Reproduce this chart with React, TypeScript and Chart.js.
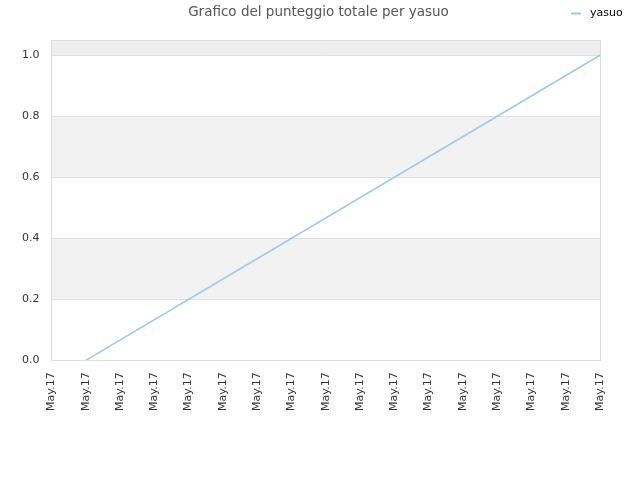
import React, { useEffect, useRef } from "react";
import { Chart, registerables } from "chart.js";

Chart.register(...registerables);

const TITLE = "Grafico del punteggio totale per yasuo";
const SERIES_NAME = "yasuo";
const xLabels = [
  "May.17", "May.17", "May.17", "May.17", "May.17", "May.17", "May.17", "May.17", "May.17",
  "May.17", "May.17", "May.17", "May.17", "May.17", "May.17", "May.17", "May.17",
];
const yasuoValues: (number | null)[] = [
  null, 0.0, null, null, null, null, null, null, null, null, null, null, null, null, null, null, 1.0,
];
const yTicks = [0, 0.2, 0.4, 0.6, 0.8, 1.0];
const yMax = 1.05;
const bands: [number, number, string][] = [
  [0.2, 0.4, "#f2f2f2"],
  [0.6, 0.8, "#f2f2f2"],
  [1.0, 1.05, "#eeeeee"],
];
const LINE_COLOR = "#99c8f6";
const FONT = "'DejaVu Sans', sans-serif";

const decorPlugin = {
  id: "decor",
  beforeDraw(chart: any) {
    const { ctx, chartArea, scales } = chart;
    const y = scales.y;
    ctx.save();
    for (const [a, b, c] of bands) {
      const top = y.getPixelForValue(b);
      const bot = y.getPixelForValue(a);
      ctx.fillStyle = c;
      ctx.fillRect(chartArea.left, top, chartArea.right - chartArea.left, bot - top);
    }
    ctx.restore();
  },
  afterDraw(chart: any) {
    const { ctx, chartArea } = chart;
    ctx.save();
    ctx.strokeStyle = "#dddddd";
    ctx.lineWidth = 1;
    ctx.strokeRect(
      Math.round(chartArea.left) + 0.5,
      Math.round(chartArea.top) + 0.5,
      Math.round(chartArea.right - chartArea.left),
      Math.round(chartArea.bottom - chartArea.top)
    );
    // title
    ctx.fillStyle = "#555555";
    ctx.font = `13.5px ${FONT}`;
    ctx.textAlign = "center";
    ctx.textBaseline = "middle";
    ctx.fillText(TITLE, 318.5, 12);
    // legend
    ctx.strokeStyle = LINE_COLOR;
    ctx.lineWidth = 2;
    ctx.beginPath();
    ctx.moveTo(571, 13.5);
    ctx.lineTo(581, 13.5);
    ctx.stroke();
    ctx.fillStyle = "#000000";
    ctx.font = `11px ${FONT}`;
    ctx.textBaseline = "middle";
    ctx.textAlign = "left";
    ctx.fillText(SERIES_NAME, 590, 13);
    ctx.restore();
  },
};

export default function App() {
  const ref = useRef<HTMLCanvasElement | null>(null);
  useEffect(() => {
    document.body.style.margin = "0";
    const chart = new Chart(ref.current as HTMLCanvasElement, {
      type: "line",
      data: {
        labels: xLabels,
        datasets: [
          {
            label: SERIES_NAME,
            data: yasuoValues,
            borderColor: LINE_COLOR,
            backgroundColor: LINE_COLOR,
            borderWidth: 1.6,
            pointRadius: 0,
            spanGaps: true,
            tension: 0,
          },
        ],
      },
      options: {
        animation: false,
        responsive: false,
        maintainAspectRatio: false,
        layout: { padding: { left: 10, right: 40, top: 40, bottom: 57 } },
        plugins: {
          title: { display: false },
          legend: { display: false },
          tooltip: { enabled: false },
        },
        scales: {
          x: {
            offset: false,
            grid: { display: false, drawTicks: false },
            border: { display: false },
            ticks: {
              color: "#333333",
              font: { family: FONT, size: 11 },
              maxRotation: 90,
              minRotation: 90,
              autoSkip: false,
              padding: 12,
            },
          },
          y: {
            min: 0,
            max: yMax,
            grid: { color: "#e0e0e0", drawTicks: false },
            border: { display: false },
            afterBuildTicks: (axis: any) => {
              axis.ticks = yTicks.map((v) => ({ value: v }));
            },
            ticks: {
              color: "#333333",
              font: { family: FONT, size: 11 },
              padding: 12,
              callback: (v: any) => Number(v).toFixed(1),
            },
          },
        },
      },
      plugins: [decorPlugin],
    } as any);
    return () => chart.destroy();
  }, []);
  return (
    <div style={{ position: "absolute", left: 0, top: 0, width: 640, height: 480 }}>
      <canvas ref={ref} width={640} height={480} style={{ width: 640, height: 480 }} />
    </div>
  );
}
